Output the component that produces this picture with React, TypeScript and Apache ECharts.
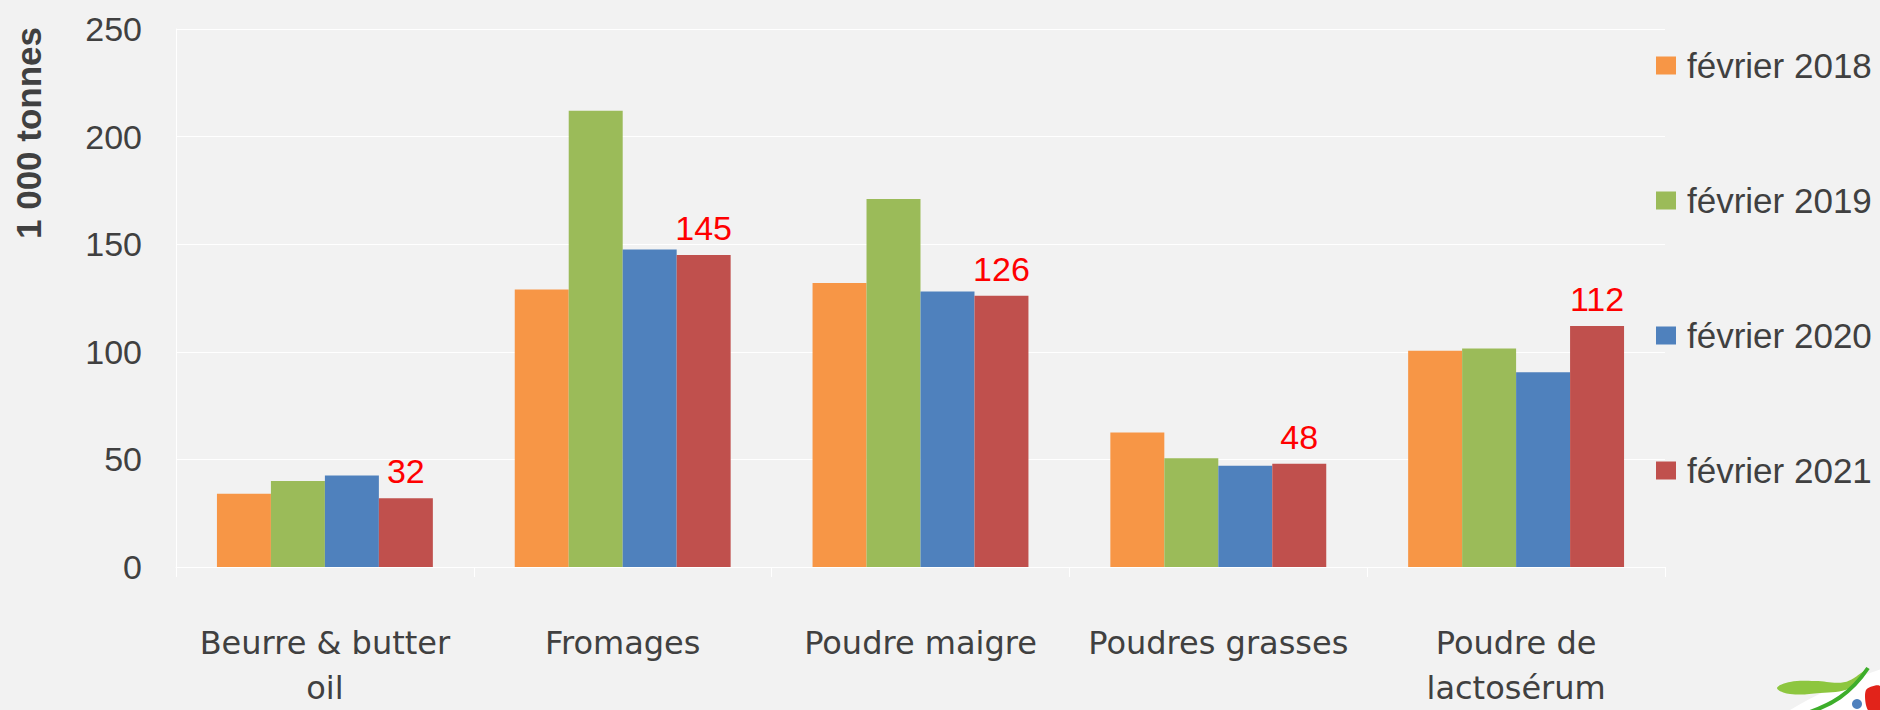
import React, { useEffect, useRef } from "react";
import * as echarts from "echarts";

const categories = [
  "Beurre & butter\noil",
  "Fromages",
  "Poudre maigre",
  "Poudres grasses",
  "Poudre de\nlactosérum",
];
const seriesNames = ["février 2018", "février 2019", "février 2020", "février 2021"];
const values2018 = [34, 129, 132, 62.5, 100.5];
const values2019 = [40, 212, 171, 50.5, 101.5];
const values2020 = [42.5, 147.5, 128, 47, 90.5];
const values2021 = [32, 145, 126, 48, 112];
const seriesColors = ["#F79646", "#9BBB59", "#4F81BD", "#C0504D"];
const yMin = 0;
const yMax = 250;
const yInterval = 50;
const yAxisTitle = "1 000 tonnes";

const NUM_FONT = "Liberation Sans";
const TXT_FONT = "DejaVu Sans";

export default function App() {
  const ref = useRef<HTMLDivElement>(null);

  useEffect(() => {
    if (!ref.current) return;
    const chart = echarts.init(ref.current, undefined, { renderer: "svg" });
    const allValues = [values2018, values2019, values2020, values2021];
    const option: any = {
      animation: false,
      backgroundColor: "#F2F2F2",
      textStyle: { fontFamily: NUM_FONT },
      grid: { left: 176, right: 215, top: 29, bottom: 137, containLabel: false },
      legend: {
        orient: "vertical",
        left: 1651,
        top: 43,
        itemWidth: 20,
        itemHeight: 18,
        itemGap: 100,
        icon: "rect",
        data: seriesNames,
        textStyle: {
          fontSize: 35,
          color: "#404040",
          fontFamily: NUM_FONT,
          lineHeight: 34,
          padding: [0, 0, 0, 6],
        },
      },
      xAxis: {
        type: "category",
        data: categories,
        axisLine: { show: true, lineStyle: { color: "#FFFFFF", width: 1 } },
        axisTick: { show: true, length: 10, lineStyle: { color: "#FFFFFF" } },
        axisLabel: {
          fontSize: 32,
          lineHeight: 45,
          margin: 53,
          color: "#404040",
          fontFamily: TXT_FONT,
          interval: 0,
        },
      },
      yAxis: {
        type: "value",
        min: yMin,
        max: yMax,
        interval: yInterval,
        axisLine: { show: true, lineStyle: { color: "#FFFFFF" } },
        axisTick: { show: false },
        splitLine: { show: true, lineStyle: { color: "#FFFFFF", width: 1 } },
        axisLabel: { fontSize: 34, margin: 34, color: "#404040", fontFamily: NUM_FONT },
      },
      series: seriesNames.map((name, i) => ({
        name,
        type: "bar",
        data: allValues[i],
        barGap: "0%",
        barCategoryGap: "27.5%",
        itemStyle: { color: seriesColors[i] },
        label:
          i === 3
            ? {
                show: true,
                position: "top",
                distance: 10,
                fontSize: 34,
                color: "#FF0000",
                fontFamily: NUM_FONT,
              }
            : { show: false },
      })),
      graphic: [
        {
          type: "text",
          x: 28,
          y: 133,
          rotation: Math.PI / 2,
          style: {
            text: yAxisTitle,
            fontSize: 35,
            fontWeight: "bold",
            fontFamily: NUM_FONT,
            fill: "#404040",
            textAlign: "center",
            textVerticalAlign: "middle",
          },
        },
        {
          type: "ellipse",
          x: 1910,
          y: 725,
          rotation: 0.3,
          shape: { cx: 0, cy: 0, rx: 185, ry: 62 },
          style: { fill: "#FFFFFF" },
        },
        {
          type: "polygon",
          shape: {
            points: [
              [1777, 688],
              [1790, 682],
              [1815, 681],
              [1845, 682],
              [1866, 670],
              [1850, 688],
              [1820, 693],
              [1790, 694],
            ],
            smooth: 0.4,
          },
          style: { fill: "#8DC63F" },
        },
        {
          type: "bezierCurve",
          shape: { x1: 1868, y1: 668, x2: 1810, y2: 712, cpx1: 1850, cpy1: 695, cpx2: 1830, cpy2: 705 },
          style: { stroke: "#3DAE2B", lineWidth: 4, fill: "none" },
        },
        {
          type: "circle",
          shape: { cx: 1857, cy: 704, r: 5 },
          style: { fill: "#4F81BD" },
        },
        {
          type: "polygon",
          shape: {
            points: [
              [1866, 690],
              [1880, 686],
              [1880, 710],
              [1868, 710],
            ],
            smooth: 0.3,
          },
          style: { fill: "#E2231A" },
        },
      ],
    };
    chart.setOption(option);
    return () => chart.dispose();
  }, []);

  return (
    <div
      ref={ref}
      style={{ position: "fixed", left: 0, top: 0, width: 1880, height: 710 }}
    />
  );
}
